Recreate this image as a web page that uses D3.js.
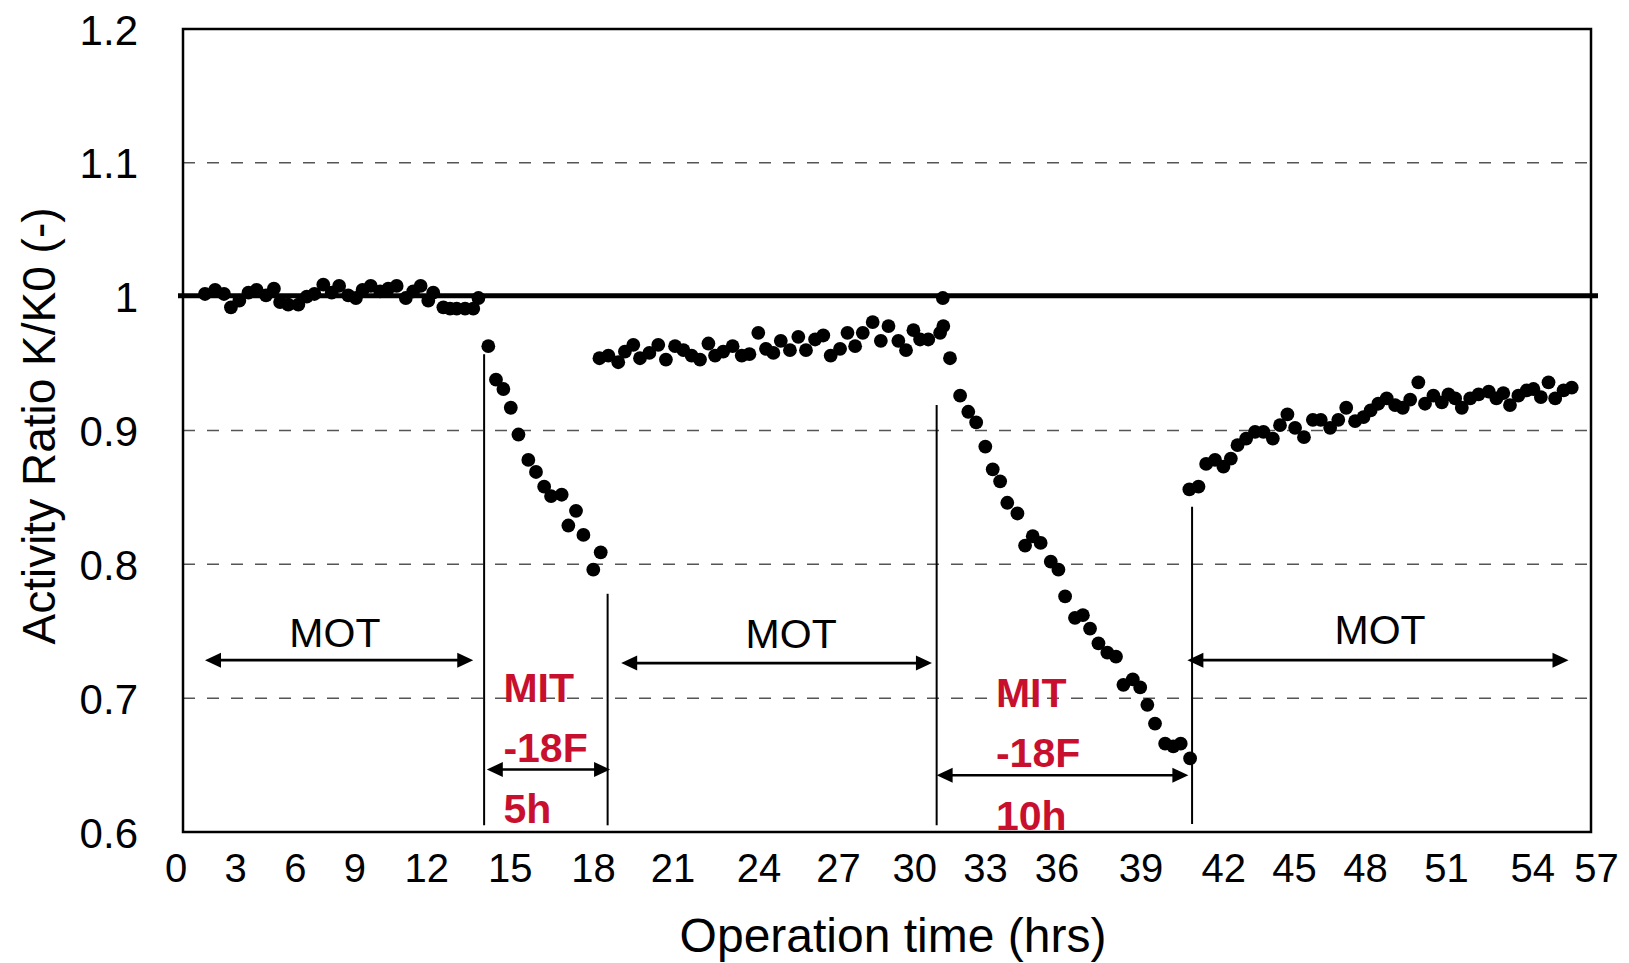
<!DOCTYPE html>
<html>
<head>
<meta charset="utf-8">
<script src="https://cdn.jsdelivr.net/npm/d3@7"></script>
<style>
  html, body { margin: 0; padding: 0; background: #fff; }
  svg { display: block; }
  text { font-family: "Liberation Sans", Arial, sans-serif; }
</style>
</head>
<body>
<svg id="chart" width="1629" height="963"></svg>
<script>
// ---------------- DATA ----------------
const yTickValues = [0.6, 0.7, 0.8, 0.9, 1.0, 1.1, 1.2];
const yGridValues = [0.7, 0.8, 0.9, 1.1];
const referenceRatio = 1.0;

const xTickLabels = [0, 3, 6, 9, 12, 15, 18, 21, 24, 27, 30, 33, 36, 39, 42, 45, 48, 51, 54, 57];
// hour on the time axis where each printed label sits (labels are unevenly placed in the original)
const xTickAt = [-0.30, 2.11, 4.53, 6.94, 9.85, 13.23, 16.60, 19.82, 23.30, 26.52, 29.60, 32.47, 35.36, 38.76, 42.11, 44.98, 47.85, 51.13, 54.62, 57.20];

// MOT period 1
const mot1Time = [0.89,1.30,1.66,1.94,2.28,2.65,2.98,3.36,3.68,3.93,4.26,4.67,5.01,5.32,5.68,6.02,6.32,6.69,7.00,7.27,7.60,7.98,8.31,8.65,9.02,9.32,9.62,9.93,10.13,10.54,10.81,11.08,11.42,11.75,11.96];
const mot1Ratio = [1.002,1.005,1.002,0.992,0.997,1.003,1.005,1.001,1.006,0.996,0.994,0.994,1.000,1.002,1.009,1.003,1.008,1.001,0.999,1.005,1.008,1.004,1.006,1.008,0.999,1.004,1.008,0.997,1.003,0.992,0.991,0.991,0.991,0.991,0.999];

// MIT -18F period 1 (5 h)
const mit1Time = [12.36,12.67,12.97,13.27,13.58,13.98,14.29,14.62,14.90,15.33,15.60,15.91,16.21,16.61,16.91];
const mit1Ratio = [0.963,0.938,0.931,0.917,0.897,0.878,0.869,0.858,0.851,0.852,0.829,0.840,0.822,0.796,0.809];

// MOT period 2
const mot2Time = [16.86,17.22,17.62,17.89,18.23,18.50,18.88,19.24,19.55,19.92,20.26,20.59,20.93,21.27,21.54,21.87,22.25,22.62,22.93,23.29,23.60,23.90,24.20,24.57,24.91,25.22,25.59,25.92,26.22,26.60,26.90,27.21,27.52,27.92,28.25,28.56,28.96,29.27,29.57,29.84,30.17,30.65,30.78,30.76];
const mot2Ratio = [0.954,0.956,0.951,0.959,0.964,0.954,0.958,0.964,0.953,0.963,0.960,0.956,0.953,0.965,0.956,0.959,0.963,0.956,0.957,0.973,0.961,0.958,0.967,0.960,0.970,0.960,0.968,0.971,0.956,0.961,0.973,0.963,0.973,0.981,0.967,0.978,0.967,0.960,0.975,0.968,0.968,0.973,0.978,0.999];

// MIT -18F period 2 (10 h)
const mit2Time = [31.05,31.46,31.79,32.11,32.48,32.78,33.08,33.37,33.78,34.09,34.40,34.72,35.13,35.44,35.71,36.11,36.43,36.72,37.06,37.42,37.77,38.07,38.45,38.75,39.04,39.35,39.76,40.09,40.39,40.77];
const mit2Ratio = [0.954,0.926,0.914,0.906,0.888,0.871,0.862,0.846,0.838,0.814,0.821,0.816,0.802,0.796,0.776,0.760,0.762,0.752,0.741,0.734,0.731,0.710,0.714,0.708,0.695,0.681,0.666,0.664,0.666,0.655];

// MOT period 3
const mot3Time = [40.74,41.11,41.42,41.78,42.12,42.42,42.69,43.04,43.40,43.74,44.12,44.41,44.71,45.02,45.38,45.74,46.06,46.44,46.77,47.09,47.45,47.79,48.08,48.39,48.73,49.07,49.38,49.68,50.01,50.28,50.62,50.96,51.23,51.50,51.77,52.11,52.45,52.86,53.17,53.45,53.72,54.06,54.40,54.67,54.97,55.28,55.55,55.89,56.22];
const mot3Ratio = [0.856,0.858,0.875,0.878,0.873,0.879,0.889,0.894,0.899,0.899,0.894,0.904,0.912,0.902,0.895,0.908,0.908,0.902,0.908,0.917,0.907,0.910,0.915,0.920,0.924,0.919,0.917,0.923,0.936,0.920,0.926,0.921,0.927,0.924,0.917,0.924,0.927,0.929,0.924,0.928,0.919,0.926,0.930,0.931,0.925,0.936,0.924,0.930,0.932];

// phase boundaries (vertical lines): hour, top ratio, bottom ratio
const boundaryTime = [12.19, 17.19, 30.51, 40.85];
const boundaryTop = [0.957, 0.778, 0.919, 0.843];
const boundaryBottom = [0.605, 0.605, 0.605, 0.606];

// MOT annotations
const motLabel = ["MOT", "MOT", "MOT"];
const motStart = [0.89, 17.74, 40.66];
const motEnd = [11.75, 30.32, 56.09];
const motArrowAt = [0.7284, 0.7262, 0.7284];
const motTextAt = [6.15, 24.62, 48.46];
const motTextBase = [0.7383, 0.7375, 0.7404];

// MIT annotations
const mitLines = [["MIT", "-18F", "5h"], ["MIT", "-18F", "10h"]];
const mitStart = [12.30, 30.51];
const mitEnd = [17.29, 40.70];
const mitArrowAt = [0.6467, 0.6424];
const mitTextAt = [12.97, 32.91];
const mitTextBase = [[0.6968, 0.6524, 0.6064], [0.6935, 0.6487, 0.6013]];

// ---------------- CHART ----------------
const margin = { left: 183, right: 1591, top: 29, bottom: 832 };
const svg = d3.select("#chart");

const x = d3.scaleLinear().domain([0, 57]).range([margin.left, margin.right]);
const y = d3.scaleLinear().domain([0.6, 1.2]).range([margin.bottom, margin.top]);

// gridlines
svg.append("g").selectAll("line").data(yGridValues).join("line")
  .attr("x1", x(0)).attr("x2", x(57))
  .attr("y1", d => y(d)).attr("y2", d => y(d))
  .attr("stroke", "#555").attr("stroke-width", 1.5)
  .attr("stroke-dasharray", "12,12");

// y axis labels
const yAxis = d3.axisLeft(y).tickValues(yTickValues).tickSize(0).tickPadding(45)
  .tickFormat(d => d3.format("~g")(+d.toFixed(1)));
const gy = svg.append("g").attr("transform", `translate(${x(0)},0)`).call(yAxis);
gy.select(".domain").remove();
gy.selectAll("text").attr("font-size", 42).attr("fill", "#000")
  .attr("font-family", '"Liberation Sans", Arial, sans-serif').attr("dy", "0.36em");

// x axis labels (placed at their printed positions)
const xLabelScale = d3.scaleOrdinal(xTickLabels, xTickAt.map(h => x(h)));
const xAxis = d3.axisBottom(xLabelScale).tickSize(0).tickPadding(22);
const gx = svg.append("g").attr("transform", `translate(0,${y(0.6)})`).call(xAxis);
gx.select(".domain").remove();
gx.selectAll("text").attr("font-size", 40).attr("fill", "#000")
  .attr("font-family", '"Liberation Sans", Arial, sans-serif');

// frame
svg.append("rect")
  .attr("x", x(0)).attr("y", y(1.2))
  .attr("width", x(57) - x(0)).attr("height", y(0.6) - y(1.2))
  .attr("fill", "none").attr("stroke", "#000").attr("stroke-width", 2.5);

// reference line at K/K0 = 1
svg.append("line")
  .attr("x1", x(0) - 5).attr("x2", x(57) + 7)
  .attr("y1", y(referenceRatio) - 1).attr("y2", y(referenceRatio) - 1)
  .attr("stroke", "#000").attr("stroke-width", 5);

// phase boundary lines
svg.append("g").selectAll("line").data(boundaryTime).join("line")
  .attr("x1", d => x(d)).attr("x2", d => x(d))
  .attr("y1", (d, i) => y(boundaryTop[i])).attr("y2", (d, i) => y(boundaryBottom[i]))
  .attr("stroke", "#000").attr("stroke-width", 2);

// data points
const segments = [
  [mot1Time, mot1Ratio], [mit1Time, mit1Ratio], [mot2Time, mot2Ratio],
  [mit2Time, mit2Ratio], [mot3Time, mot3Ratio]
];
const points = segments.flatMap(([t, r]) => t.map((h, i) => ({ h, v: r[i] })));
svg.append("g").selectAll("circle").data(points).join("circle")
  .attr("cx", d => x(d.h)).attr("cy", d => y(d.v)).attr("r", 6.9)
  .attr("fill", "#000");

// double-headed arrow helper
function dblArrow(g, x1, x2, yy) {
  const L = 16, W = 7.5;
  g.append("line").attr("x1", x1 + L - 2).attr("x2", x2 - L + 2)
    .attr("y1", yy).attr("y2", yy).attr("stroke", "#000").attr("stroke-width", 2.6);
  g.append("path").attr("d", `M${x1},${yy} L${x1 + L},${yy - W} L${x1 + L},${yy + W} Z`).attr("fill", "#000");
  g.append("path").attr("d", `M${x2},${yy} L${x2 - L},${yy - W} L${x2 - L},${yy + W} Z`).attr("fill", "#000");
}

const ann = svg.append("g");
motLabel.forEach((lab, i) => {
  dblArrow(ann, x(motStart[i]), x(motEnd[i]), y(motArrowAt[i]));
  ann.append("text").attr("x", x(motTextAt[i])).attr("y", y(motTextBase[i]))
    .attr("text-anchor", "middle").attr("font-size", 41).attr("fill", "#000").text(lab);
});

mitLines.forEach((lines, i) => {
  dblArrow(ann, x(mitStart[i]), x(mitEnd[i]), y(mitArrowAt[i]));
  lines.forEach((t, j) => {
    ann.append("text").attr("x", x(mitTextAt[i])).attr("y", y(mitTextBase[i][j]))
      .attr("font-size", 41).attr("font-weight", "bold").attr("fill", "#c8102e").text(t);
  });
});

// axis titles
svg.append("text").attr("x", 893).attr("y", 952).attr("text-anchor", "middle")
  .attr("font-size", 48).attr("fill", "#000").text("Operation time (hrs)");
svg.append("text").attr("transform", "translate(55,426) rotate(-90)")
  .attr("text-anchor", "middle").attr("font-size", 46).attr("fill", "#000")
  .text("Activity Ratio K/K0 (-)");
</script>
</body>
</html>
